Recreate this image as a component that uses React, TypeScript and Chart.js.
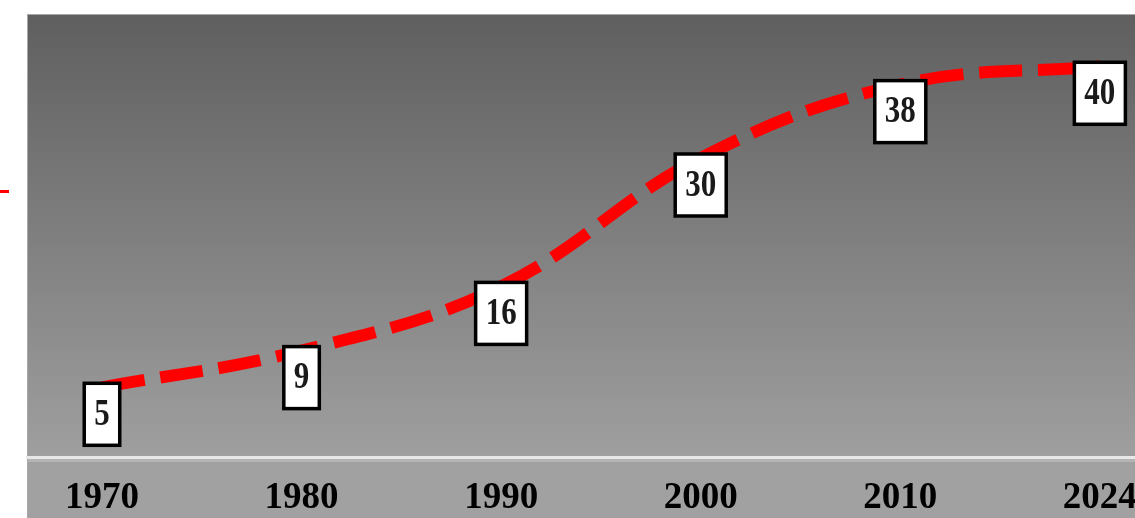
import React, { useEffect, useRef } from "react";
import { Chart, registerables } from "chart.js";

Chart.register(...registerables);

const years: string[] = ["1970", "1980", "1990", "2000", "2010", "2024"];
const values: number[] = [5, 9, 16, 30, 38, 40];

const X_MIN = -0.3757;
const X_MAX = 5.176;
const Y_MIN = -2.6;
const Y_MAX = 45.7;

const bgPlugin = {
  id: "bgPlugin",
  beforeDraw(chart: any) {
    const { ctx, chartArea, width, height } = chart;
    ctx.save();
    ctx.fillStyle = "#ffffff";
    ctx.fillRect(0, 0, width, height);
    const g = ctx.createLinearGradient(0, chartArea.top, 0, chartArea.bottom);
    g.addColorStop(0, "#5f5f5f");
    g.addColorStop(1, "#9f9f9f");
    ctx.fillStyle = g;
    ctx.fillRect(chartArea.left, chartArea.top, width - chartArea.left, chartArea.bottom - chartArea.top);
    ctx.fillStyle = "#a1a1a1";
    ctx.fillRect(chartArea.left, chartArea.bottom, width - chartArea.left, height - chartArea.bottom);
    ctx.fillStyle = "#b4b4b4";
    ctx.fillRect(chartArea.left, chartArea.bottom + 1, width - chartArea.left, 4);
    ctx.fillStyle = "#a8a8a8";
    ctx.fillRect(chartArea.left, chartArea.top, width - chartArea.left, 1);
    ctx.fillRect(chartArea.left, chartArea.top, 1, height - chartArea.top);
    ctx.fillStyle = "#ff0000";
    ctx.fillRect(0, 190, 9, 3);
    ctx.restore();
  },
};

const labelPlugin = {
  id: "labelPlugin",
  afterDatasetsDraw(chart: any) {
    const { ctx } = chart;
    const meta = chart.getDatasetMeta(0);
    ctx.save();
    ctx.font = "bold 31px 'Liberation Serif'";
    meta.data.forEach((pt: any, i: number) => {
      const text = String(values[i]);
      const tw = ctx.measureText(text).width;
      const w = tw + 20;
      const h = 62;
      const cx = pt.x;
      const cy = pt.y + 27;
      ctx.fillStyle = "#ffffff";
      ctx.fillRect(cx - w / 2, cy - h / 2, w, h);
      ctx.strokeStyle = "#000000";
      ctx.lineWidth = 3.5;
      ctx.strokeRect(cx - w / 2, cy - h / 2, w, h);
      ctx.save();
      ctx.translate(cx, cy);
      ctx.scale(1, 1.2);
      ctx.fillStyle = "#1a1a1a";
      ctx.textAlign = "center";
      ctx.textBaseline = "middle";
      ctx.fillText(text, 0, 1);
      ctx.restore();
    });
    ctx.restore();
  },
};

export default function App() {
  const ref = useRef<HTMLCanvasElement | null>(null);
  useEffect(() => {
    document.body.style.margin = "0";
    const canvas = ref.current!;
    const chart = new Chart(canvas, {
      type: "line",
      data: {
        datasets: [
          {
            data: values.map((v, i) => ({ x: i, y: v })),
            borderColor: "#ff0000",
            borderWidth: 12,
            borderDash: [43, 16],
            borderCapStyle: "butt",
            tension: 0.4,
            pointRadius: 0,
            fill: false,
          },
        ],
      },
      options: {
        animation: false,
        responsive: false,
        devicePixelRatio: 1,
        layout: { padding: { left: 27, top: 14, right: 0, bottom: 0 } },
        plugins: { legend: { display: false }, tooltip: { enabled: false } },
        scales: {
          x: {
            type: "linear",
            min: X_MIN,
            max: X_MAX,
            afterBuildTicks: (scale: any) => {
              scale.ticks = years.map((_, i) => ({ value: i }));
            },
            afterFit: (scale: any) => {
              scale.height = 61;
              scale.paddingLeft = 0;
              scale.paddingRight = 0;
            },
            grid: { display: false, drawTicks: false },
            border: { display: true, color: "#e8e8e8", width: 3 },
            ticks: {
              autoSkip: false,
              maxRotation: 0,
              padding: 19,
              color: "#000000",
              font: { family: "'Liberation Serif'", size: 37, weight: "bold" },
              callback: (v: any) => years[Math.round(v)] ?? "",
            },
          },
          y: { display: false, min: Y_MIN, max: Y_MAX },
        },
      },
      plugins: [bgPlugin, labelPlugin],
    } as any);
    return () => chart.destroy();
  }, []);
  return <canvas ref={ref} width={1135} height={518} style={{ display: "block" }} />;
}
